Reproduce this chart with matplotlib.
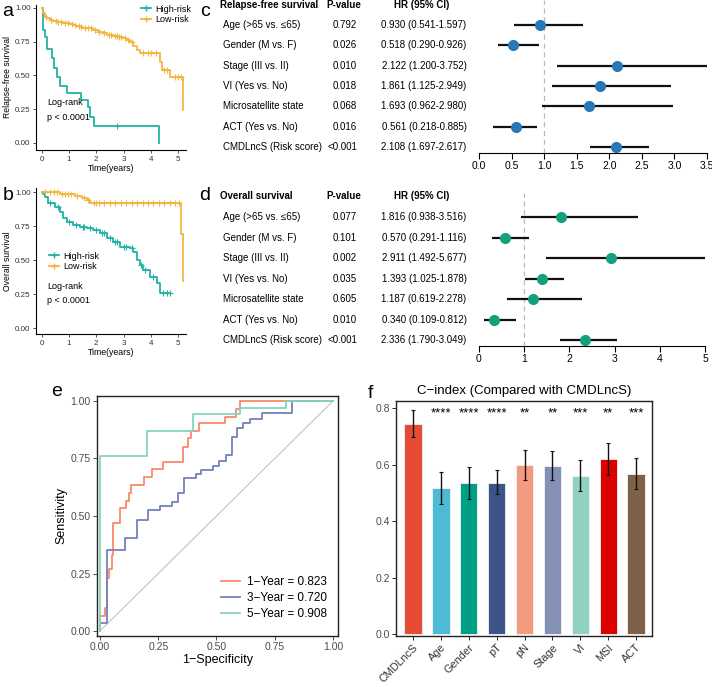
import numpy as np
import matplotlib.pyplot as plt
from matplotlib.lines import Line2D
from matplotlib.transforms import blended_transform_factory

plt.rcParams['font.family'] = ['Liberation Sans', 'DejaVu Sans']

W, H = 712, 687
TEAL = "#22B3A5"
ORANGE = "#F2B640"

# ---- KM data ----
rfs_high_t = [0, 0.02, 0.11, 0.20, 0.36, 0.44, 0.54, 0.66, 0.93, 1.45, 1.70, 1.76, 1.91, 4.31]
rfs_high_s = [1.0, 0.837, 0.788, 0.694, 0.627, 0.553, 0.491, 0.422, 0.368, 0.319, 0.264, 0.195, 0.126, 0.0]
rfs_high_cens = [2.77]
rfs_low_t = [0, 0.05, 0.11, 0.20, 0.29, 0.40, 0.54, 0.78, 0.90, 1.03, 1.15, 1.27, 1.40, 1.52, 1.89,
             2.05, 2.25, 2.40, 2.62, 2.80, 2.99, 3.10, 3.24, 3.35, 3.48, 3.60, 4.34, 4.40, 4.70, 5.20]
rfs_low_s = [1.0, 0.96, 0.936, 0.925, 0.911, 0.905, 0.899, 0.891, 0.886, 0.881, 0.874, 0.867, 0.858, 0.849, 0.837,
             0.825, 0.812, 0.803, 0.793, 0.784, 0.775, 0.763, 0.751, 0.720, 0.689, 0.664, 0.602, 0.541, 0.491, 0.244]
rfs_low_cens = [0.15, 0.35, 0.5, 0.6, 0.7, 0.85, 0.95, 1.1, 1.2, 1.35, 1.45, 1.6, 1.7, 1.8, 1.95, 2.1, 2.3,
                2.45, 2.55, 2.7, 2.75, 2.85, 2.9, 3.05, 3.15, 3.3, 3.7, 3.9, 4.0, 4.2, 4.5, 4.6, 4.9, 5.0, 5.1]

os_high_t = [0, 0.05, 0.11, 0.23, 0.48, 0.66, 0.78, 0.91, 1.15, 1.40, 1.64, 1.89, 2.13, 2.38, 2.62, 2.87,
             3.24, 3.36, 3.48, 3.60, 3.72, 3.97, 4.22, 4.35]
os_high_s = [1.0, 0.985, 0.966, 0.917, 0.892, 0.855, 0.806, 0.782, 0.757, 0.745, 0.733, 0.721, 0.696, 0.659,
             0.635, 0.598, 0.586, 0.561, 0.500, 0.463, 0.426, 0.377, 0.328, 0.255]
os_high_end = 4.7
os_high_cens = [0.3, 0.6, 1.0, 1.25, 1.5, 1.55, 1.75, 2.0, 2.2, 2.3, 2.5, 2.7, 2.75, 3.0, 3.1, 3.3, 3.65,
                3.8, 4.1, 4.45, 4.6, 4.7]
os_low_t = [0, 0.66, 1.23, 1.47, 1.66, 1.78, 5.13, 5.20]
os_low_s = [1.0, 0.985, 0.97, 0.955, 0.94, 0.92, 0.69, 0.345]
os_low_cens = [0.1, 0.3, 0.45, 0.55, 0.75, 0.85, 0.95, 1.05, 1.3, 1.55, 1.7, 1.9, 2.0, 2.1, 2.3, 2.5, 2.7,
               2.9, 3.1, 3.3, 3.5, 3.7, 3.9, 4.1, 4.3, 4.5, 4.7, 4.9, 5.05]

# ---- forest data ----
variables = ["Age (>65 vs. \u226465)", "Gender (M vs. F)", "Stage (III vs. II)", "VI (Yes vs. No)",
             "Microsatellite state", "ACT (Yes vs. No)", "CMDLncS (Risk score)"]
rfs_p = ["0.792", "0.026", "0.010", "0.018", "0.068", "0.016", "<0.001"]
rfs_hr = [0.930, 0.518, 2.122, 1.861, 1.693, 0.561, 2.108]
rfs_lo = [0.541, 0.290, 1.200, 1.125, 0.962, 0.218, 1.697]
rfs_hi = [1.597, 0.926, 3.752, 2.949, 2.980, 0.885, 2.617]
os_p = ["0.077", "0.101", "0.002", "0.035", "0.605", "0.010", "<0.001"]
os_hr = [1.816, 0.570, 2.911, 1.393, 1.187, 0.340, 2.336]
os_lo = [0.938, 0.291, 1.492, 1.025, 0.619, 0.109, 1.790]
os_hi = [3.516, 1.116, 5.677, 1.878, 2.278, 0.812, 3.049]

# ---- ROC data ----
roc1_fpr = [0, 0, 0.02, 0.02, 0.03, 0.03, 0.04, 0.04, 0.05, 0.05, 0.057, 0.057, 0.086, 0.086, 0.11, 0.11,
            0.126, 0.126, 0.133, 0.133, 0.19, 0.19, 0.222, 0.222, 0.272, 0.272, 0.358, 0.358, 0.376, 0.376,
            0.39, 0.39, 0.425, 0.425, 0.536, 0.536, 0.582, 0.582, 0.60, 0.60, 1.0]
roc1_tpr = [0, 0.065, 0.065, 0.10, 0.10, 0.23, 0.23, 0.27, 0.27, 0.33, 0.33, 0.468, 0.468, 0.533, 0.533, 0.567,
            0.567, 0.60, 0.60, 0.635, 0.635, 0.671, 0.671, 0.704, 0.704, 0.736, 0.736, 0.80, 0.80, 0.838,
            0.838, 0.87, 0.87, 0.903, 0.903, 0.932, 0.932, 0.965, 0.965, 1.0, 1.0]
roc3_fpr = [0, 0, 0.029, 0.029, 0.107, 0.107, 0.157, 0.157, 0.207, 0.207, 0.257, 0.257, 0.31, 0.31, 0.336,
            0.336, 0.362, 0.362, 0.41, 0.41, 0.433, 0.433, 0.486, 0.486, 0.512, 0.512, 0.539, 0.539, 0.565,
            0.565, 0.59, 0.59, 0.615, 0.615, 0.644, 0.644, 0.694, 0.694, 0.823, 0.823, 1.0]
roc3_tpr = [0, 0.036, 0.036, 0.352, 0.352, 0.403, 0.403, 0.483, 0.483, 0.526, 0.526, 0.543, 0.543, 0.562,
            0.562, 0.60, 0.60, 0.664, 0.664, 0.683, 0.683, 0.70, 0.70, 0.719, 0.719, 0.739, 0.739, 0.765,
            0.765, 0.845, 0.845, 0.881, 0.881, 0.903, 0.903, 0.922, 0.922, 0.946, 0.946, 1.0, 1.0]
roc5_fpr = [0, 0, 0.2, 0.2, 0.4, 0.4, 0.6, 0.6, 0.8, 0.8, 1.0]
roc5_tpr = [0, 0.761, 0.761, 0.87, 0.87, 0.943, 0.943, 0.97, 0.97, 1.0, 1.0]
roc_labels = ["1\u2212Year = 0.823", "3\u2212Year = 0.720", "5\u2212Year = 0.908"]
roc_colors = ["#F98A68", "#7282B8", "#86D4BE"]

# ---- C-index data ----
cindex_names = ["CMDLncS", "Age", "Gender", "pT", "pN", "Stage", "VI", "MSI", "ACT"]
cindex_val = [0.744, 0.518, 0.534, 0.536, 0.597, 0.596, 0.560, 0.619, 0.566]
cindex_lo = [0.696, 0.462, 0.479, 0.495, 0.546, 0.544, 0.506, 0.564, 0.513]
cindex_hi = [0.794, 0.573, 0.590, 0.579, 0.650, 0.649, 0.616, 0.677, 0.622]
cindex_sig = ["", "****", "****", "****", "**", "**", "***", "**", "***"]
cindex_colors = ["#E64B35", "#4DBBD5", "#00A087", "#3C5488", "#F39B7F", "#8491B4", "#91D1C2", "#DC0000", "#7E6148"]


def box(x0, y0, x1, y1):
    return [x0 / W, 1 - y1 / H, (x1 - x0) / W, (y1 - y0) / H]


def fx(x):
    return x / W


def fy(y):
    return 1 - y / H


def step_at(t, s, c):
    idx = np.searchsorted(t, c, side='right') - 1
    return np.asarray(s)[idx]


def km_curve(ax, t, s, end, cens, color):
    t = np.asarray(t)
    s = np.asarray(s)
    ax.step(np.append(t, end), np.append(s, s[-1]), where='post', color=color, lw=1.3)
    ax.plot(cens, step_at(t, s, cens), ls='none', marker='+', ms=4, mew=0.8, color=color)


def km_axes(ax, ylabel, ylim):
    ax.set_xlim(-0.22, 5.3)
    ax.set_ylim(*ylim)
    ax.set_xticks([0, 1, 2, 3, 4, 5])
    ax.set_yticks([0, 0.25, 0.5, 0.75, 1.0])
    ax.set_yticklabels(["0.00", "0.25", "0.50", "0.75", "1.00"])
    for sp in ["top", "right"]:
        ax.spines[sp].set_visible(False)
    for sp in ["left", "bottom"]:
        ax.spines[sp].set_linewidth(0.8)
    ax.tick_params(labelsize=5.8, length=2.5, width=0.6, pad=1.5, colors="#333333")
    ax.set_xlabel("Time(years)", fontsize=6.3, labelpad=1)
    ax.set_ylabel(ylabel, fontsize=6.2, labelpad=2)
    ax.patch.set_alpha(0)


def forest(fig, ax, title, p, hr, lo, hi, color, xlim, xticks, ylim):
    rows = np.arange(len(variables))
    ax.hlines(rows, lo, hi, color="#111111", lw=1.6)
    ax.plot(hr, rows, 'o', color=color, ms=7)
    ax.axvline(1, color="#BBBBBB", ls=(0, (4, 3)), lw=0.9, zorder=0)
    ax.set_xlim(*xlim)
    ax.set_ylim(*ylim)
    ax.set_xticks(xticks)
    ax.set_yticks([])
    for sp in ["top", "right", "left"]:
        ax.spines[sp].set_visible(False)
    ax.spines["bottom"].set_linewidth(0.8)
    ax.tick_params(axis='x', labelsize=7.5, length=4, width=0.8, pad=2)
    ax.patch.set_alpha(0)

    tr = blended_transform_factory(fig.transFigure, ax.transData)
    fs = 7.0
    ax.text(fx(220), -1, title, transform=tr, fontsize=fs, fontweight='bold', va='center')
    ax.text(fx(344), -1, "P-value", transform=tr, fontsize=fs, fontweight='bold', va='center', ha='center')
    ax.text(fx(422), -1, "HR (95% CI)", transform=tr, fontsize=fs, fontweight='bold', va='center', ha='center')
    for i, name in enumerate(variables):
        ax.text(fx(223), i, name, transform=tr, fontsize=fs, va='center')
        ax.text(fx(357), i, p[i], transform=tr, fontsize=fs, va='center', ha='right')
        ax.text(fx(424), i, f"{hr[i]:.3f} ({lo[i]:.3f}-{hi[i]:.3f})", transform=tr,
                fontsize=fs, va='center', ha='center')


def main():
    fig = plt.figure(figsize=(W / 100, H / 100), dpi=100)

    # a
    ax_a = fig.add_axes(box(36, 5, 186, 150))
    km_curve(ax_a, rfs_high_t, rfs_high_s, 4.31, rfs_high_cens, TEAL)
    km_curve(ax_a, rfs_low_t, rfs_low_s, 5.2, rfs_low_cens, ORANGE)
    km_axes(ax_a, "Relapse-free survival", (-0.052, 1.022))
    ax_a.text(0.18, 0.244, "Log-rank\np < 0.0001", fontsize=6.5, va='center', linespacing=1.8)
    h = [Line2D([], [], color=TEAL, marker='+', ms=4, lw=1.3),
         Line2D([], [], color=ORANGE, marker='+', ms=4, lw=1.3)]
    ax_a.legend(h, ["High-risk", "Low-risk"], loc='upper left', frameon=False, fontsize=6.5,
                handlelength=1.2, handletextpad=0.4, labelspacing=0.15, borderpad=0,
                bbox_to_anchor=(fx(136), fy(0)), bbox_transform=fig.transFigure)
    fig.text(fx(8), fy(12), "a", fontsize=14, va='center', ha='center')

    # b
    ax_b = fig.add_axes(box(36, 188, 186, 334))
    km_curve(ax_b, os_high_t, os_high_s, os_high_end, os_high_cens, TEAL)
    km_curve(ax_b, os_low_t, os_low_s, 5.2, os_low_cens, ORANGE)
    km_axes(ax_b, "Overall survival", (-0.044, 1.03))
    ax_b.text(0.18, 0.254, "Log-rank\np < 0.0001", fontsize=6.5, va='center', linespacing=1.8)
    ax_b.legend(h, ["High-risk", "Low-risk"], loc='upper left', frameon=False, fontsize=6.5,
                handlelength=1.2, handletextpad=0.4, labelspacing=0.15, borderpad=0,
                bbox_to_anchor=(fx(44), fy(247)), bbox_transform=fig.transFigure)
    fig.text(fx(8), fy(196), "b", fontsize=14, va='center', ha='center')

    # c
    ax_c = fig.add_axes(box(479, 0, 707, 153))
    forest(fig, ax_c, "Relapse-free survival", rfs_p, rfs_hr, rfs_lo, rfs_hi, "#2878B5",
           (0, 3.5), np.arange(0, 3.51, 0.5), (6.3, -1.23))
    fig.text(fx(205), fy(11), "c", fontsize=14, va='center', ha='center')

    # d
    ax_d = fig.add_axes(box(479, 193, 705, 346))
    forest(fig, ax_d, "Overall survival", os_p, os_hr, os_lo, os_hi, "#13A07E",
           (0, 5), np.arange(0, 6), (6.29, -1.17))
    fig.text(fx(205), fy(196), "d", fontsize=14, va='center', ha='center')

    # e
    ax_e = fig.add_axes(box(97, 396, 338, 636))
    ax_e.plot([0, 1], [0, 1], color="#BBBBBB", lw=0.7)
    for f, t, c, lab in zip([roc1_fpr, roc3_fpr, roc5_fpr], [roc1_tpr, roc3_tpr, roc5_tpr], roc_colors, roc_labels):
        ax_e.plot(f, t, color=c, lw=1.3, label=lab)
    ax_e.set_xlim(-0.0129, 1.0215)
    ax_e.set_ylim(-0.0217, 1.0217)
    ticks = [0, 0.25, 0.5, 0.75, 1.0]
    ticklabels = ["0.00", "0.25", "0.50", "0.75", "1.00"]
    ax_e.set_xticks(ticks)
    ax_e.set_xticklabels(ticklabels)
    ax_e.set_yticks(ticks)
    ax_e.set_yticklabels(ticklabels)
    ax_e.tick_params(labelsize=7.5, length=3, width=0.6, colors="#333333", labelcolor="#4D4D4D", pad=1.5)
    for sp in ax_e.spines.values():
        sp.set_linewidth(1.0)
        sp.set_color("#222222")
    ax_e.set_xlabel("1\u2212Specificity", fontsize=9, labelpad=1)
    ax_e.set_ylabel("Sensitivity", fontsize=9, labelpad=2)
    ax_e.legend(loc='lower right', frameon=False, fontsize=8.5, handlelength=1.6, handletextpad=0.6,
                labelspacing=0.35, borderpad=0, bbox_to_anchor=(fx(333), fy(626)), bbox_transform=fig.transFigure)
    fig.text(fx(57), fy(392), "e", fontsize=14, va='center', ha='center')

    # f
    ax_f = fig.add_axes(box(396, 401, 652, 636))
    x = np.arange(len(cindex_names))
    err = [np.array(cindex_val) - np.array(cindex_lo), np.array(cindex_hi) - np.array(cindex_val)]
    ax_f.bar(x, cindex_val, width=0.62, color=cindex_colors, edgecolor="#F4F4F4", lw=0.6)
    ax_f.errorbar(x, cindex_val, yerr=err, fmt='none', ecolor="#111111", elinewidth=1.0, capsize=1.2, capthick=0.8)
    for xi, s in zip(x, cindex_sig):
        ax_f.text(xi, 0.782, s, ha='center', va='center', fontsize=9.5)
    ax_f.set_xlim(-0.61, 8.57)
    ax_f.set_ylim(-0.007, 0.825)
    ax_f.set_xticks(x)
    ax_f.set_xticklabels(cindex_names, rotation=45, ha='right', rotation_mode='anchor', fontsize=7.8)
    ax_f.set_yticks([0, 0.2, 0.4, 0.6, 0.8])
    ax_f.tick_params(axis='y', labelsize=7.5, labelcolor="#4D4D4D", length=3, width=0.6, pad=1.5)
    ax_f.tick_params(axis='x', labelcolor="#333333", length=3, width=0.6, pad=1.5)
    for sp in ax_f.spines.values():
        sp.set_linewidth(1.0)
        sp.set_color("#222222")
    ax_f.set_title("C\u2212index (Compared with CMDLncS)", fontsize=9.5, pad=5)
    fig.text(fx(370), fy(393), "f", fontsize=14, va='center', ha='center')

    fig.savefig("out.png", dpi=100)


if __name__ == "__main__":
    main()
